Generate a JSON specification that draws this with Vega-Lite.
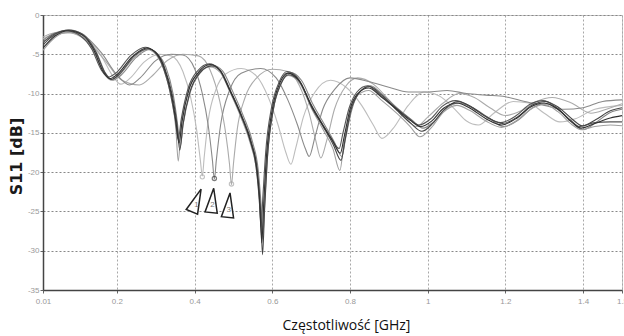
{
  "$schema": "https://vega.github.io/schema/vega-lite/v6.json",
  "autosize": "none",
  "width": 579,
  "height": 275,
  "padding": {"left": 43, "top": 15, "right": 2, "bottom": 46},
  "background": "white",
  "config": {"view": {"stroke": "#c8c8c8", "strokeWidth": 1}},
  "datasets": {
    "curves": [
      {"s":"S1","x":0.01,"y":-3.0},{"s":"S1","x":0.04,"y":-2.4},{"s":"S1","x":0.08,"y":-2.1},{"s":"S1","x":0.12,"y":-2.9},{"s":"S1","x":0.16,"y":-5.2},{"s":"S1","x":0.19,"y":-7.8},{"s":"S1","x":0.21,"y":-8.8},{"s":"S1","x":0.235,"y":-8.0},{"s":"S1","x":0.27,"y":-6.0},{"s":"S1","x":0.31,"y":-5.0},{"s":"S1","x":0.34,"y":-5.2},{"s":"S1","x":0.37,"y":-7.2},{"s":"S1","x":0.39,"y":-10.5},{"s":"S1","x":0.405,"y":-14.5},{"s":"S1","x":0.415,"y":-18.5},{"s":"S1","x":0.42,"y":-20.5},{"s":"S1","x":0.425,"y":-18},{"s":"S1","x":0.435,"y":-13.5},{"s":"S1","x":0.455,"y":-9.5},{"s":"S1","x":0.48,"y":-7.5},{"s":"S1","x":0.52,"y":-6.8},{"s":"S1","x":0.56,"y":-7.8},{"s":"S1","x":0.59,"y":-10.5},{"s":"S1","x":0.615,"y":-14},{"s":"S1","x":0.635,"y":-17.5},{"s":"S1","x":0.648,"y":-19},{"s":"S1","x":0.66,"y":-17},{"s":"S1","x":0.68,"y":-13},{"s":"S1","x":0.71,"y":-9.8},{"s":"S1","x":0.75,"y":-8.3},{"s":"S1","x":0.79,"y":-9.2},{"s":"S1","x":0.83,"y":-11.5},{"s":"S1","x":0.86,"y":-14},{"s":"S1","x":0.882,"y":-15.7},{"s":"S1","x":0.91,"y":-14.5},{"s":"S1","x":0.95,"y":-11.5},{"s":"S1","x":0.99,"y":-9.8},{"s":"S1","x":1.03,"y":-10.3},{"s":"S1","x":1.07,"y":-12},{"s":"S1","x":1.1,"y":-13.5},{"s":"S1","x":1.13,"y":-14},{"s":"S1","x":1.17,"y":-12.5},{"s":"S1","x":1.22,"y":-11},{"s":"S1","x":1.26,"y":-11.2},{"s":"S1","x":1.3,"y":-12.5},{"s":"S1","x":1.34,"y":-13.6},{"s":"S1","x":1.38,"y":-13.2},{"s":"S1","x":1.43,"y":-12},{"s":"S1","x":1.5,"y":-11.5},

      {"s":"S3","x":0.01,"y":-2.8},{"s":"S3","x":0.04,"y":-2.3},{"s":"S3","x":0.08,"y":-2.3},{"s":"S3","x":0.12,"y":-3.2},{"s":"S3","x":0.17,"y":-5.8},{"s":"S3","x":0.21,"y":-8.2},{"s":"S3","x":0.258,"y":-8.9},{"s":"S3","x":0.29,"y":-7.8},{"s":"S3","x":0.33,"y":-5.8},{"s":"S3","x":0.37,"y":-5.0},{"s":"S3","x":0.41,"y":-5.2},{"s":"S3","x":0.44,"y":-7},{"s":"S3","x":0.465,"y":-11},{"s":"S3","x":0.48,"y":-15},{"s":"S3","x":0.49,"y":-19},{"s":"S3","x":0.495,"y":-21.6},{"s":"S3","x":0.5,"y":-19},{"s":"S3","x":0.51,"y":-14.5},{"s":"S3","x":0.53,"y":-10.5},{"s":"S3","x":0.56,"y":-8},{"s":"S3","x":0.6,"y":-6.9},{"s":"S3","x":0.64,"y":-7.2},{"s":"S3","x":0.67,"y":-9},{"s":"S3","x":0.695,"y":-12.5},{"s":"S3","x":0.712,"y":-16},{"s":"S3","x":0.725,"y":-18.2},{"s":"S3","x":0.74,"y":-16},{"s":"S3","x":0.76,"y":-12},{"s":"S3","x":0.79,"y":-9},{"s":"S3","x":0.82,"y":-8.0},{"s":"S3","x":0.86,"y":-8.8},{"s":"S3","x":0.9,"y":-10.8},{"s":"S3","x":0.94,"y":-13},{"s":"S3","x":0.97,"y":-14.2},{"s":"S3","x":1.0,"y":-13},{"s":"S3","x":1.04,"y":-11.2},{"s":"S3","x":1.08,"y":-10},{"s":"S3","x":1.12,"y":-10.5},{"s":"S3","x":1.16,"y":-11.8},{"s":"S3","x":1.2,"y":-12.8},{"s":"S3","x":1.24,"y":-12.2},{"s":"S3","x":1.28,"y":-11},{"s":"S3","x":1.32,"y":-10.5},{"s":"S3","x":1.37,"y":-11.2},{"s":"S3","x":1.42,"y":-12.5},{"s":"S3","x":1.46,"y":-12},{"s":"S3","x":1.5,"y":-11.3},

      {"s":"S2","x":0.01,"y":-3.4},{"s":"S2","x":0.04,"y":-2.6},{"s":"S2","x":0.08,"y":-2.2},{"s":"S2","x":0.12,"y":-2.8},{"s":"S2","x":0.16,"y":-4.8},{"s":"S2","x":0.2,"y":-7.6},{"s":"S2","x":0.233,"y":-8.9},{"s":"S2","x":0.26,"y":-8.0},{"s":"S2","x":0.3,"y":-5.8},{"s":"S2","x":0.34,"y":-5.0},{"s":"S2","x":0.37,"y":-5.1},{"s":"S2","x":0.4,"y":-6.8},{"s":"S2","x":0.42,"y":-10},{"s":"S2","x":0.435,"y":-14},{"s":"S2","x":0.446,"y":-18.5},{"s":"S2","x":0.451,"y":-20.9},{"s":"S2","x":0.456,"y":-18.5},{"s":"S2","x":0.467,"y":-14},{"s":"S2","x":0.49,"y":-9.6},{"s":"S2","x":0.52,"y":-7.4},{"s":"S2","x":0.57,"y":-6.8},{"s":"S2","x":0.61,"y":-8},{"s":"S2","x":0.64,"y":-10.8},{"s":"S2","x":0.665,"y":-14},{"s":"S2","x":0.685,"y":-17},{"s":"S2","x":0.695,"y":-18},{"s":"S2","x":0.71,"y":-15.5},{"s":"S2","x":0.73,"y":-12},{"s":"S2","x":0.76,"y":-9.5},{"s":"S2","x":0.8,"y":-8.0},{"s":"S2","x":0.85,"y":-8.5},{"s":"S2","x":0.9,"y":-9.2},{"s":"S2","x":0.95,"y":-9.8},{"s":"S2","x":1.0,"y":-9.8},{"s":"S2","x":1.05,"y":-9.6},{"s":"S2","x":1.1,"y":-10},{"s":"S2","x":1.15,"y":-10.2},{"s":"S2","x":1.2,"y":-10.4},{"s":"S2","x":1.25,"y":-11},{"s":"S2","x":1.3,"y":-11.5},{"s":"S2","x":1.35,"y":-12},{"s":"S2","x":1.4,"y":-11.8},{"s":"S2","x":1.45,"y":-11},{"s":"S2","x":1.5,"y":-10.8},

      {"s":"M5","x":0.01,"y":-3.2},{"s":"M5","x":0.04,"y":-2.3},{"s":"M5","x":0.078,"y":-1.9},{"s":"M5","x":0.115,"y":-2.5},{"s":"M5","x":0.148,"y":-4.8},{"s":"M5","x":0.172,"y":-7.5},{"s":"M5","x":0.19,"y":-8.3},{"s":"M5","x":0.21,"y":-7.7},{"s":"M5","x":0.25,"y":-5.4},{"s":"M5","x":0.283,"y":-4.4},{"s":"M5","x":0.306,"y":-5.0},{"s":"M5","x":0.326,"y":-6.6},{"s":"M5","x":0.345,"y":-10.1},{"s":"M5","x":0.356,"y":-13.8},{"s":"M5","x":0.363,"y":-16.8},{"s":"M5","x":0.371,"y":-13.8},{"s":"M5","x":0.389,"y":-9.8},{"s":"M5","x":0.414,"y":-7.4},{"s":"M5","x":0.446,"y":-6.4},{"s":"M5","x":0.472,"y":-7.1},{"s":"M5","x":0.497,"y":-9.6},{"s":"M5","x":0.526,"y":-12.9},{"s":"M5","x":0.55,"y":-16.3},{"s":"M5","x":0.564,"y":-19.8},{"s":"M5","x":0.571,"y":-24},{"s":"M5","x":0.576,"y":-28},{"s":"M5","x":0.581,"y":-23.5},{"s":"M5","x":0.588,"y":-17.8},{"s":"M5","x":0.603,"y":-12},{"s":"M5","x":0.623,"y":-8.7},{"s":"M5","x":0.645,"y":-7.3},{"s":"M5","x":0.675,"y":-8.3},{"s":"M5","x":0.705,"y":-11.4},{"s":"M5","x":0.735,"y":-14},{"s":"M5","x":0.76,"y":-16.2},{"s":"M5","x":0.779,"y":-18},{"s":"M5","x":0.789,"y":-15.6},{"s":"M5","x":0.805,"y":-12},{"s":"M5","x":0.825,"y":-9.8},{"s":"M5","x":0.853,"y":-9.0},{"s":"M5","x":0.885,"y":-10.2},{"s":"M5","x":0.925,"y":-12},{"s":"M5","x":0.96,"y":-13.4},{"s":"M5","x":0.988,"y":-14.4},{"s":"M5","x":1.015,"y":-13.6},{"s":"M5","x":1.045,"y":-12.0},{"s":"M5","x":1.08,"y":-11.2},{"s":"M5","x":1.115,"y":-11.8},{"s":"M5","x":1.155,"y":-13.0},{"s":"M5","x":1.195,"y":-14.2},{"s":"M5","x":1.235,"y":-13.3},{"s":"M5","x":1.27,"y":-11.8},{"s":"M5","x":1.305,"y":-11.3},{"s":"M5","x":1.34,"y":-12.2},{"s":"M5","x":1.375,"y":-13.8},{"s":"M5","x":1.4,"y":-14.6},{"s":"M5","x":1.435,"y":-13.6},{"s":"M5","x":1.47,"y":-12.4},{"s":"M5","x":1.5,"y":-12.0},

      {"s":"M4","x":0.01,"y":-4.5},{"s":"M4","x":0.04,"y":-2.9},{"s":"M4","x":0.075,"y":-2.2},{"s":"M4","x":0.11,"y":-2.7},{"s":"M4","x":0.14,"y":-4.6},{"s":"M4","x":0.168,"y":-7.5},{"s":"M4","x":0.185,"y":-8.3},{"s":"M4","x":0.203,"y":-7.8},{"s":"M4","x":0.243,"y":-5.5},{"s":"M4","x":0.278,"y":-4.4},{"s":"M4","x":0.3,"y":-5.0},{"s":"M4","x":0.32,"y":-6.8},{"s":"M4","x":0.34,"y":-10.5},{"s":"M4","x":0.352,"y":-14.5},{"s":"M4","x":0.358,"y":-18.6},{"s":"M4","x":0.365,"y":-14.5},{"s":"M4","x":0.382,"y":-10},{"s":"M4","x":0.408,"y":-7.5},{"s":"M4","x":0.44,"y":-6.6},{"s":"M4","x":0.466,"y":-7.3},{"s":"M4","x":0.491,"y":-9.8},{"s":"M4","x":0.52,"y":-13.1},{"s":"M4","x":0.545,"y":-16.6},{"s":"M4","x":0.56,"y":-20},{"s":"M4","x":0.568,"y":-24.5},{"s":"M4","x":0.574,"y":-28.5},{"s":"M4","x":0.579,"y":-24},{"s":"M4","x":0.586,"y":-18},{"s":"M4","x":0.601,"y":-12.3},{"s":"M4","x":0.621,"y":-8.9},{"s":"M4","x":0.641,"y":-7.7},{"s":"M4","x":0.671,"y":-8.7},{"s":"M4","x":0.701,"y":-11.9},{"s":"M4","x":0.731,"y":-14.6},{"s":"M4","x":0.756,"y":-17},{"s":"M4","x":0.774,"y":-19.8},{"s":"M4","x":0.784,"y":-16.5},{"s":"M4","x":0.8,"y":-12.4},{"s":"M4","x":0.82,"y":-10.2},{"s":"M4","x":0.848,"y":-9.6},{"s":"M4","x":0.88,"y":-10.8},{"s":"M4","x":0.92,"y":-12.5},{"s":"M4","x":0.955,"y":-14.2},{"s":"M4","x":0.98,"y":-15.5},{"s":"M4","x":1.01,"y":-14.3},{"s":"M4","x":1.04,"y":-12.4},{"s":"M4","x":1.075,"y":-11.5},{"s":"M4","x":1.11,"y":-12.2},{"s":"M4","x":1.15,"y":-13.5},{"s":"M4","x":1.19,"y":-14.3},{"s":"M4","x":1.23,"y":-13.4},{"s":"M4","x":1.265,"y":-12},{"s":"M4","x":1.3,"y":-11.4},{"s":"M4","x":1.335,"y":-12.3},{"s":"M4","x":1.37,"y":-13.9},{"s":"M4","x":1.395,"y":-14.6},{"s":"M4","x":1.43,"y":-14.2},{"s":"M4","x":1.47,"y":-14.0},{"s":"M4","x":1.5,"y":-14.1},

      {"s":"M3","x":0.01,"y":-3.5},{"s":"M3","x":0.04,"y":-2.4},{"s":"M3","x":0.07,"y":-2.0},{"s":"M3","x":0.105,"y":-2.6},{"s":"M3","x":0.135,"y":-4.3},{"s":"M3","x":0.16,"y":-7.0},{"s":"M3","x":0.178,"y":-7.9},{"s":"M3","x":0.197,"y":-7.4},{"s":"M3","x":0.237,"y":-5.1},{"s":"M3","x":0.273,"y":-4.1},{"s":"M3","x":0.297,"y":-4.7},{"s":"M3","x":0.317,"y":-6.4},{"s":"M3","x":0.337,"y":-9.8},{"s":"M3","x":0.35,"y":-13.2},{"s":"M3","x":0.358,"y":-15.8},{"s":"M3","x":0.366,"y":-13.2},{"s":"M3","x":0.383,"y":-9.4},{"s":"M3","x":0.408,"y":-7.1},{"s":"M3","x":0.438,"y":-6.2},{"s":"M3","x":0.463,"y":-6.9},{"s":"M3","x":0.488,"y":-9.3},{"s":"M3","x":0.518,"y":-12.6},{"s":"M3","x":0.543,"y":-16},{"s":"M3","x":0.558,"y":-19.2},{"s":"M3","x":0.566,"y":-23},{"s":"M3","x":0.571,"y":-27},{"s":"M3","x":0.576,"y":-23},{"s":"M3","x":0.583,"y":-17.5},{"s":"M3","x":0.598,"y":-11.8},{"s":"M3","x":0.618,"y":-8.5},{"s":"M3","x":0.638,"y":-7.2},{"s":"M3","x":0.668,"y":-8.2},{"s":"M3","x":0.698,"y":-11.2},{"s":"M3","x":0.728,"y":-13.8},{"s":"M3","x":0.753,"y":-15.8},{"s":"M3","x":0.772,"y":-17.0},{"s":"M3","x":0.782,"y":-15},{"s":"M3","x":0.798,"y":-11.8},{"s":"M3","x":0.818,"y":-9.8},{"s":"M3","x":0.845,"y":-9.0},{"s":"M3","x":0.878,"y":-10.2},{"s":"M3","x":0.918,"y":-11.8},{"s":"M3","x":0.953,"y":-13.2},{"s":"M3","x":0.978,"y":-14.0},{"s":"M3","x":1.008,"y":-13.2},{"s":"M3","x":1.038,"y":-11.6},{"s":"M3","x":1.072,"y":-10.9},{"s":"M3","x":1.108,"y":-11.6},{"s":"M3","x":1.148,"y":-12.9},{"s":"M3","x":1.188,"y":-13.7},{"s":"M3","x":1.228,"y":-12.8},{"s":"M3","x":1.262,"y":-11.4},{"s":"M3","x":1.297,"y":-10.9},{"s":"M3","x":1.332,"y":-11.8},{"s":"M3","x":1.368,"y":-13.4},{"s":"M3","x":1.392,"y":-14.2},{"s":"M3","x":1.43,"y":-13.7},{"s":"M3","x":1.47,"y":-13.6},{"s":"M3","x":1.5,"y":-13.6},

      {"s":"M2","x":0.01,"y":-3.8},{"s":"M2","x":0.04,"y":-2.5},{"s":"M2","x":0.075,"y":-1.9},{"s":"M2","x":0.11,"y":-2.4},{"s":"M2","x":0.145,"y":-4.6},{"s":"M2","x":0.17,"y":-7.4},{"s":"M2","x":0.186,"y":-8.2},{"s":"M2","x":0.205,"y":-7.6},{"s":"M2","x":0.245,"y":-5.2},{"s":"M2","x":0.28,"y":-4.3},{"s":"M2","x":0.303,"y":-4.9},{"s":"M2","x":0.323,"y":-6.7},{"s":"M2","x":0.343,"y":-10.3},{"s":"M2","x":0.355,"y":-14},{"s":"M2","x":0.362,"y":-17.2},{"s":"M2","x":0.37,"y":-14},{"s":"M2","x":0.388,"y":-9.8},{"s":"M2","x":0.413,"y":-7.4},{"s":"M2","x":0.443,"y":-6.5},{"s":"M2","x":0.468,"y":-7.2},{"s":"M2","x":0.493,"y":-9.7},{"s":"M2","x":0.523,"y":-13},{"s":"M2","x":0.548,"y":-16.5},{"s":"M2","x":0.562,"y":-20},{"s":"M2","x":0.57,"y":-25},{"s":"M2","x":0.575,"y":-30.5},{"s":"M2","x":0.58,"y":-25},{"s":"M2","x":0.587,"y":-18.5},{"s":"M2","x":0.602,"y":-12.2},{"s":"M2","x":0.622,"y":-8.8},{"s":"M2","x":0.642,"y":-7.6},{"s":"M2","x":0.672,"y":-8.6},{"s":"M2","x":0.702,"y":-11.8},{"s":"M2","x":0.732,"y":-14.3},{"s":"M2","x":0.757,"y":-16.5},{"s":"M2","x":0.777,"y":-18.5},{"s":"M2","x":0.787,"y":-16},{"s":"M2","x":0.802,"y":-12.2},{"s":"M2","x":0.822,"y":-10},{"s":"M2","x":0.85,"y":-9.1},{"s":"M2","x":0.882,"y":-10.2},{"s":"M2","x":0.922,"y":-12.2},{"s":"M2","x":0.957,"y":-13.8},{"s":"M2","x":0.985,"y":-14.8},{"s":"M2","x":1.013,"y":-13.8},{"s":"M2","x":1.043,"y":-12},{"s":"M2","x":1.078,"y":-11.0},{"s":"M2","x":1.113,"y":-11.7},{"s":"M2","x":1.153,"y":-13},{"s":"M2","x":1.193,"y":-13.8},{"s":"M2","x":1.233,"y":-12.9},{"s":"M2","x":1.268,"y":-11.5},{"s":"M2","x":1.303,"y":-11.0},{"s":"M2","x":1.338,"y":-11.8},{"s":"M2","x":1.373,"y":-13.3},{"s":"M2","x":1.398,"y":-14.1},{"s":"M2","x":1.433,"y":-13.3},{"s":"M2","x":1.47,"y":-12.2},{"s":"M2","x":1.5,"y":-11.8},

      {"s":"M1","x":0.01,"y":-4.2},{"s":"M1","x":0.04,"y":-2.7},{"s":"M1","x":0.075,"y":-2.0},{"s":"M1","x":0.11,"y":-2.5},{"s":"M1","x":0.14,"y":-4.4},{"s":"M1","x":0.165,"y":-7.2},{"s":"M1","x":0.182,"y":-8.1},{"s":"M1","x":0.2,"y":-7.6},{"s":"M1","x":0.24,"y":-5.3},{"s":"M1","x":0.277,"y":-4.2},{"s":"M1","x":0.3,"y":-4.8},{"s":"M1","x":0.32,"y":-6.5},{"s":"M1","x":0.34,"y":-10},{"s":"M1","x":0.352,"y":-13.5},{"s":"M1","x":0.36,"y":-16.3},{"s":"M1","x":0.368,"y":-13.5},{"s":"M1","x":0.385,"y":-9.6},{"s":"M1","x":0.41,"y":-7.3},{"s":"M1","x":0.44,"y":-6.3},{"s":"M1","x":0.465,"y":-7.0},{"s":"M1","x":0.49,"y":-9.5},{"s":"M1","x":0.52,"y":-12.8},{"s":"M1","x":0.545,"y":-16.2},{"s":"M1","x":0.56,"y":-19.5},{"s":"M1","x":0.568,"y":-24},{"s":"M1","x":0.573,"y":-29},{"s":"M1","x":0.578,"y":-24},{"s":"M1","x":0.585,"y":-18},{"s":"M1","x":0.6,"y":-12},{"s":"M1","x":0.62,"y":-8.6},{"s":"M1","x":0.64,"y":-7.4},{"s":"M1","x":0.67,"y":-8.4},{"s":"M1","x":0.7,"y":-11.5},{"s":"M1","x":0.73,"y":-14},{"s":"M1","x":0.755,"y":-16},{"s":"M1","x":0.775,"y":-17.6},{"s":"M1","x":0.785,"y":-15.5},{"s":"M1","x":0.8,"y":-12},{"s":"M1","x":0.82,"y":-10},{"s":"M1","x":0.848,"y":-9.3},{"s":"M1","x":0.88,"y":-10.4},{"s":"M1","x":0.92,"y":-12},{"s":"M1","x":0.955,"y":-13.4},{"s":"M1","x":0.982,"y":-14.2},{"s":"M1","x":1.01,"y":-13.5},{"s":"M1","x":1.04,"y":-11.9},{"s":"M1","x":1.075,"y":-11.2},{"s":"M1","x":1.11,"y":-11.9},{"s":"M1","x":1.15,"y":-13.2},{"s":"M1","x":1.19,"y":-14.0},{"s":"M1","x":1.23,"y":-13.1},{"s":"M1","x":1.265,"y":-11.7},{"s":"M1","x":1.3,"y":-11.2},{"s":"M1","x":1.335,"y":-12},{"s":"M1","x":1.37,"y":-13.6},{"s":"M1","x":1.395,"y":-14.4},{"s":"M1","x":1.43,"y":-13.8},{"s":"M1","x":1.47,"y":-13.1},{"s":"M1","x":1.5,"y":-12.8}
    ],
    "dips": [
      {"n":"1","x":0.42,"y":-20.6},
      {"n":"2","x":0.451,"y":-20.8},
      {"n":"3","x":0.495,"y":-21.5}
    ],
    "tags": [
      {"n":"1","x":0.405,"y":-23.6},
      {"n":"2","x":0.446,"y":-23.6},
      {"n":"3","x":0.488,"y":-24.2}
    ]
  },
  "encoding": {
    "x": {
      "field": "x", "type": "quantitative",
      "scale": {"domain": [0.01, 1.5], "nice": false, "zero": false},
      "axis": {
        "values": [0.01, 0.2, 0.4, 0.6, 0.8, 1, 1.2, 1.4, 1.5],
        "labelExpr": "'' + datum.value",
        "labelFont": "Liberation Sans Narrow, Liberation Sans", "labelFontSize": 8, "labelColor": "#999",
        "labelPadding": 4, "labelFlush": false, "labelOverlap": false,
        "tickSize": 3, "tickColor": "#666",
        "domainColor": "#444", "domainWidth": 1.5,
        "grid": true, "gridColor": "#a8a8a8", "gridDash": [2, 2], "gridWidth": 1,
        "title": "Częstotliwość [GHz]",
        "titleFont": "Open Sans", "titleFontSize": 14, "titleFontWeight": "normal", "titleColor": "#111",
        "titleX": 303, "titleY": 35, "titleAlign": "center", "titleBaseline": "middle"
      }
    },
    "y": {
      "field": "y", "type": "quantitative",
      "scale": {"domain": [-35, 0], "nice": false, "zero": false},
      "axis": {
        "values": [0, -5, -10, -15, -20, -25, -30, -35],
        "labelExpr": "'' + datum.value",
        "labelFont": "Liberation Sans Narrow, Liberation Sans", "labelFontSize": 8, "labelColor": "#999",
        "labelPadding": 1, "labelOverlap": false, "labelFlush": false,
        "tickSize": 3, "tickColor": "#666",
        "domainColor": "#444", "domainWidth": 1.5,
        "grid": true, "gridColor": "#888", "gridDash": [2, 2], "gridWidth": 1.2,
        "title": "S11 [dB]",
        "titleFont": "DejaVu Sans", "titleFontSize": 16, "titleFontWeight": "bold", "titleColor": "#1a1a1a",
        "titleX": -27, "titleY": 141, "titleAngle": -90, "titleAlign": "center", "titleBaseline": "middle"
      }
    }
  },
  "layer": [
    {
      "data": {"name": "curves"},
      "mark": {"type": "line", "interpolate": "monotone", "strokeWidth": 1.1, "clip": true},
      "encoding": {
        "color": {
          "field": "s", "type": "nominal", "legend": null,
          "scale": {
            "domain": ["S1", "S3", "S2", "M5", "M4", "M3", "M2", "M1"],
            "range": ["#bdbdbd", "#ababab", "#8a8a8a", "#858585", "#a0a0a0", "#555555", "#454545", "#303030"]
          }
        },
        "detail": {"field": "s"}
      }
    },
    {
      "data": {"name": "dips"},
      "mark": {"type": "point", "shape": "circle", "size": 18, "filled": false, "strokeWidth": 1.2},
      "encoding": {
        "stroke": {"condition": {"test": "datum.n === '2'", "value": "#444"}, "value": "#aaa"}
      }
    },
    {
      "data": {"name": "tags"},
      "mark": {"type": "point", "shape": "M0,-1L0.5,1L-0.5,1Z", "size": 600, "filled": true, "fill": "white", "fillOpacity": 1, "stroke": "#222", "strokeWidth": 1.5},
      "encoding": {
        "angle": {"condition": {"test": "datum.n === '1'", "value": 22}, "value": 6}
      }
    },
    {
      "data": {"name": "tags"},
      "mark": {"type": "text", "fontSize": 8, "color": "#777", "dy": 5, "font": "Liberation Sans"},
      "encoding": {"text": {"field": "n"}}
    }
  ]
}
